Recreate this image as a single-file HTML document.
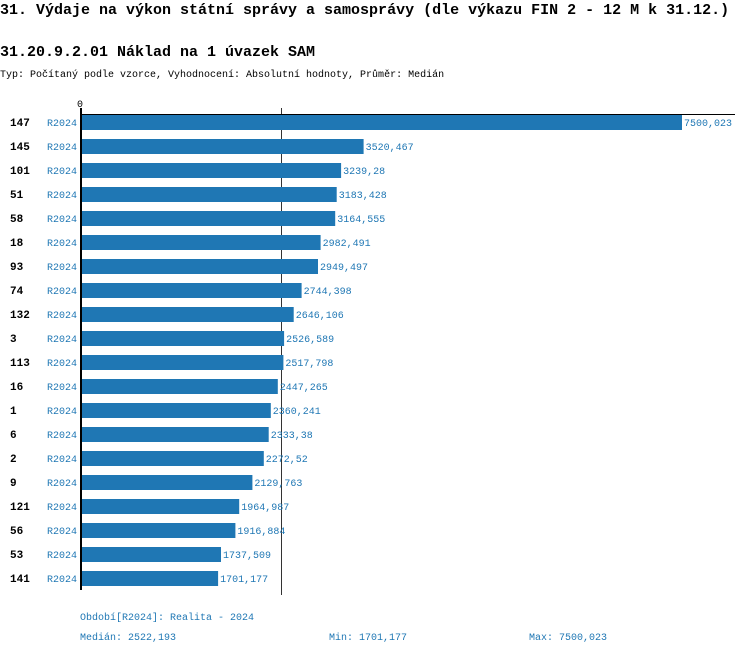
<!DOCTYPE html>
<html><head><meta charset="utf-8"><style>
body{margin:0;background:#fff;}
svg text{font-family:"Liberation Mono","DejaVu Sans Mono",monospace;}
.n{font-size:11px;font-weight:bold;fill:#000}
.r{font-size:10px;fill:#1f77b4}
.b{fill:#1f77b4}
</style></head><body>
<svg width="750" height="654" xmlns="http://www.w3.org/2000/svg">
<text x="0" y="14" font-size="15" font-weight="bold" fill="#000">31. Výdaje na výkon státní správy a samosprávy (dle výkazu FIN 2 - 12 M k 31.12.)</text>
<text x="0" y="56" font-size="15" font-weight="bold" fill="#000">31.20.9.2.01 Náklad na 1 úvazek SAM</text>
<text x="0" y="77" font-size="10" fill="#000">Typ: Počítaný podle vzorce, Vyhodnocení: Absolutní hodnoty, Průměr: Medián</text>
<text x="77" y="107" font-size="10" fill="#000">0</text>
<line x1="281.5" y1="108" x2="281.5" y2="595" stroke="#333" stroke-width="1"/>
<line x1="80" y1="114.5" x2="735" y2="114.5" stroke="#000" stroke-width="1"/>

<text class="n" x="10" y="126">147</text><text class="r" x="47" y="126">R2024</text><rect class="b" x="82" y="115" width="600" height="15"/><text class="r" x="684" y="126">7500,023</text>
<text class="n" x="10" y="150">145</text><text class="r" x="47" y="150">R2024</text><rect class="b" x="82" y="139" width="281.6" height="15"/><text class="r" x="365.6" y="150">3520,467</text>
<text class="n" x="10" y="174">101</text><text class="r" x="47" y="174">R2024</text><rect class="b" x="82" y="163" width="259.1" height="15"/><text class="r" x="343.1" y="174">3239,28</text>
<text class="n" x="10" y="198">51</text><text class="r" x="47" y="198">R2024</text><rect class="b" x="82" y="187" width="254.7" height="15"/><text class="r" x="338.7" y="198">3183,428</text>
<text class="n" x="10" y="222">58</text><text class="r" x="47" y="222">R2024</text><rect class="b" x="82" y="211" width="253.2" height="15"/><text class="r" x="337.2" y="222">3164,555</text>
<text class="n" x="10" y="246">18</text><text class="r" x="47" y="246">R2024</text><rect class="b" x="82" y="235" width="238.6" height="15"/><text class="r" x="322.6" y="246">2982,491</text>
<text class="n" x="10" y="270">93</text><text class="r" x="47" y="270">R2024</text><rect class="b" x="82" y="259" width="236" height="15"/><text class="r" x="320" y="270">2949,497</text>
<text class="n" x="10" y="294">74</text><text class="r" x="47" y="294">R2024</text><rect class="b" x="82" y="283" width="219.6" height="15"/><text class="r" x="303.6" y="294">2744,398</text>
<text class="n" x="10" y="318">132</text><text class="r" x="47" y="318">R2024</text><rect class="b" x="82" y="307" width="211.7" height="15"/><text class="r" x="295.7" y="318">2646,106</text>
<text class="n" x="10" y="342">3</text><text class="r" x="47" y="342">R2024</text><rect class="b" x="82" y="331" width="202.1" height="15"/><text class="r" x="286.1" y="342">2526,589</text>
<text class="n" x="10" y="366">113</text><text class="r" x="47" y="366">R2024</text><rect class="b" x="82" y="355" width="201.4" height="15"/><text class="r" x="285.4" y="366">2517,798</text>
<text class="n" x="10" y="390">16</text><text class="r" x="47" y="390">R2024</text><rect class="b" x="82" y="379" width="195.8" height="15"/><text class="r" x="279.8" y="390">2447,265</text>
<text class="n" x="10" y="414">1</text><text class="r" x="47" y="414">R2024</text><rect class="b" x="82" y="403" width="188.8" height="15"/><text class="r" x="272.8" y="414">2360,241</text>
<text class="n" x="10" y="438">6</text><text class="r" x="47" y="438">R2024</text><rect class="b" x="82" y="427" width="186.7" height="15"/><text class="r" x="270.7" y="438">2333,38</text>
<text class="n" x="10" y="462">2</text><text class="r" x="47" y="462">R2024</text><rect class="b" x="82" y="451" width="181.8" height="15"/><text class="r" x="265.8" y="462">2272,52</text>
<text class="n" x="10" y="486">9</text><text class="r" x="47" y="486">R2024</text><rect class="b" x="82" y="475" width="170.4" height="15"/><text class="r" x="254.4" y="486">2129,763</text>
<text class="n" x="10" y="510">121</text><text class="r" x="47" y="510">R2024</text><rect class="b" x="82" y="499" width="157.2" height="15"/><text class="r" x="241.2" y="510">1964,987</text>
<text class="n" x="10" y="534">56</text><text class="r" x="47" y="534">R2024</text><rect class="b" x="82" y="523" width="153.4" height="15"/><text class="r" x="237.4" y="534">1916,884</text>
<text class="n" x="10" y="558">53</text><text class="r" x="47" y="558">R2024</text><rect class="b" x="82" y="547" width="139" height="15"/><text class="r" x="223" y="558">1737,509</text>
<text class="n" x="10" y="582">141</text><text class="r" x="47" y="582">R2024</text><rect class="b" x="82" y="571" width="136.1" height="15"/><text class="r" x="220.1" y="582">1701,177</text>

<line x1="81" y1="108" x2="81" y2="590" stroke="#000" stroke-width="2"/>
<text x="80" y="620" font-size="10" fill="#1f77b4">Období[R2024]: Realita - 2024</text>
<text x="80" y="640" font-size="10" fill="#1f77b4">Medián: 2522,193</text>
<text x="329" y="640" font-size="10" fill="#1f77b4">Min: 1701,177</text>
<text x="529" y="640" font-size="10" fill="#1f77b4">Max: 7500,023</text>
</svg>
</body></html>
